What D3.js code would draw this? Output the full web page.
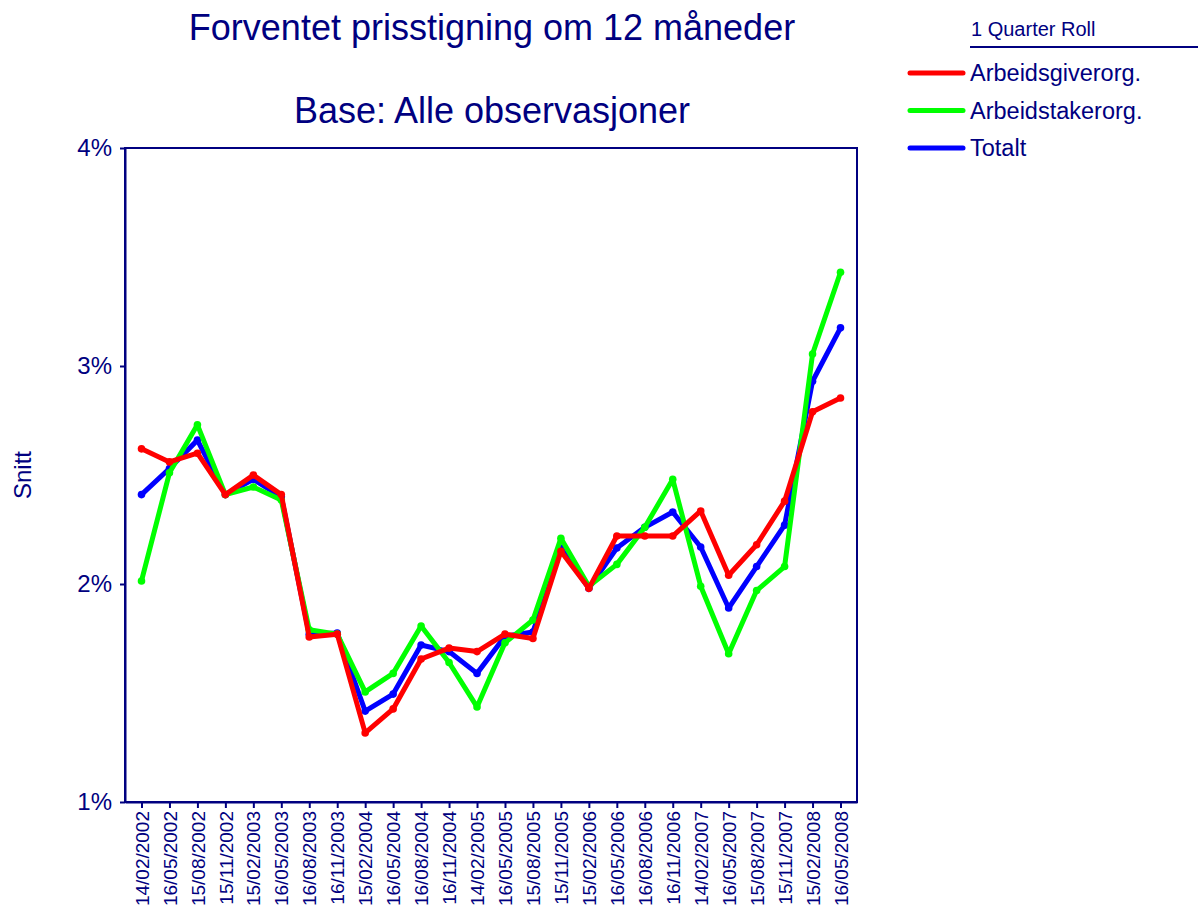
<!DOCTYPE html>
<html><head><meta charset="utf-8">
<script src="https://cdn.jsdelivr.net/npm/d3@7"></script>
<style>body{margin:0;background:#fff}svg{display:block;font-family:"Liberation Sans",Arial,sans-serif}</style>
</head><body>
<svg id="c" width="1198" height="909"></svg>
<script>
const categories = ["14/02/2002","16/05/2002","15/08/2002","15/11/2002","15/02/2003","16/05/2003","16/08/2003","16/11/2003","15/02/2004","16/05/2004","16/08/2004","16/11/2004","14/02/2005","16/05/2005","15/08/2005","15/11/2005","15/02/2006","16/05/2006","16/08/2006","16/11/2006","14/02/2007","16/05/2007","15/08/2007","15/11/2007","15/02/2008","16/05/2008"];
const arbeidsgiver = [2.62,2.56,2.60,2.41,2.50,2.41,1.757,1.77,1.317,1.427,1.656,1.706,1.69,1.77,1.75,2.15,1.98,2.22,2.22,2.22,2.335,2.04,2.18,2.38,2.79,2.853];
const arbeidstaker = [2.014,2.51,2.73,2.41,2.445,2.385,1.79,1.77,1.505,1.59,1.807,1.64,1.436,1.73,1.835,2.21,1.99,2.09,2.26,2.48,1.99,1.68,1.97,2.08,3.055,3.43];
const totalt = [2.41,2.53,2.66,2.41,2.48,2.40,1.77,1.775,1.417,1.495,1.72,1.69,1.59,1.76,1.78,2.165,1.98,2.165,2.26,2.33,2.17,1.89,2.08,2.27,2.93,3.175];
const yTicks = [1,2,3,4];
const seriesNames = ["Arbeidsgiverorg.","Arbeidstakerorg.","Totalt"];
const seriesColors = ["#ff0000","#00ff00","#0000ff"];
const navy = "#000080";
const FF = "Liberation Sans, Arial, sans-serif";

const svg = d3.select("#c");
const L=125,R=857,T=148,B=802;
const x = d3.scalePoint().domain(categories).range([L,R]).padding(0.59);
const y = d3.scaleLinear().domain([1,4]).range([B,T]);

// frame
svg.append("rect").attr("x",L).attr("y",T).attr("width",R-L).attr("height",B-T)
  .attr("fill","none").attr("stroke",navy).attr("stroke-width",2);

// y axis
const ya = svg.append("g").attr("transform",`translate(${L},0)`)
  .call(d3.axisLeft(y).tickValues(yTicks).tickFormat(d=>d+"%").tickSize(5).tickSizeOuter(0).tickPadding(8));
ya.select(".domain").attr("stroke",navy).attr("stroke-width",2);
ya.selectAll(".tick line").attr("stroke",navy).attr("stroke-width",2);
ya.selectAll(".tick text").attr("fill",navy).attr("font-size",24).attr("font-family",FF);

// x axis
const xa = svg.append("g").attr("transform",`translate(0,${B})`)
  .call(d3.axisBottom(x).tickSize(6).tickSizeOuter(0).tickPadding(4));
xa.select(".domain").attr("stroke",navy).attr("stroke-width",2);
xa.selectAll(".tick line").attr("stroke",navy).attr("stroke-width",2);
xa.selectAll(".tick text").attr("fill",navy).attr("font-size",19).attr("font-family",FF)
  .attr("transform","rotate(-90)").attr("text-anchor","end").attr("dy","0.35em").attr("x",-9).attr("y",0);

// series
const data = [totalt, arbeidstaker, arbeidsgiver];
const cols = [seriesColors[2], seriesColors[1], seriesColors[0]];
const line = d3.line().x((d,i)=>x(categories[i])).y(d=>y(d));
data.forEach((s,k)=>{
  svg.append("path").datum(s).attr("d",line).attr("fill","none").attr("stroke",cols[k])
    .attr("stroke-width",5).attr("stroke-linejoin","round");
  svg.selectAll(null).data(s).enter().append("circle")
    .attr("cx",(d,i)=>x(categories[i])).attr("cy",d=>y(d)).attr("r",3.8).attr("fill",cols[k]);
});

// titles
svg.append("text").attr("x",492).attr("y",40).attr("text-anchor","middle").attr("fill",navy)
  .attr("font-size",36).text("Forventet prisstigning om 12 måneder");
svg.append("text").attr("x",492).attr("y",123).attr("text-anchor","middle").attr("fill",navy)
  .attr("font-size",36).text("Base: Alle observasjoner");
svg.append("text").attr("transform","translate(31,475) rotate(-90)").attr("text-anchor","middle")
  .attr("fill",navy).attr("font-size",24).text("Snitt");

// legend
svg.append("text").attr("x",971).attr("y",36).attr("fill",navy).attr("font-size",20).text("1 Quarter Roll");
svg.append("line").attr("x1",970).attr("x2",1198).attr("y1",47).attr("y2",47).attr("stroke",navy).attr("stroke-width",2);
seriesNames.forEach((n,i)=>{
  const yy = 73 + i*37.5;
  svg.append("line").attr("x1",910).attr("x2",963).attr("y1",yy).attr("y2",yy)
    .attr("stroke",seriesColors[i]).attr("stroke-width",5).attr("stroke-linecap","round");
  svg.append("text").attr("x",970).attr("y",yy+8).attr("fill",navy).attr("font-size",23.5).text(n);
});
</script>
</body></html>
